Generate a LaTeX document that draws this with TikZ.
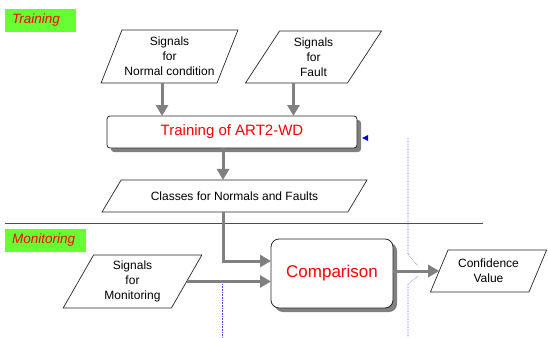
\documentclass[tikz,border=0pt]{standalone}
\usepackage{fontspec}
\setmainfont{Liberation Sans}
\usetikzlibrary{shapes.geometric,arrows.meta,shadows}
\definecolor{phasegreen}{RGB}{102,255,51}

\begin{document}
\begin{tikzpicture}[x=1pt,y=-1pt,
  font=\fontsize{12}{15}\selectfont,
  iobox/.style={draw=black!85, line width=0.7pt, trapezium, trapezium stretches=true,
    align=center, inner sep=0pt, outer sep=0pt},
  procbox/.style={draw=black!85, line width=0.8pt, fill=white, align=center, text=red,
    inner sep=0pt, outer sep=0pt,
    drop shadow={shadow xshift=4pt, shadow yshift=-4pt, fill=black!50, opacity=1}},
  phase/.style={fill=phasegreen, text=red, anchor=west, align=left, inner xsep=7pt,
    minimum height=23pt, font=\fontsize{13.5}{16}\selectfont\itshape},
  flow/.style={draw=gray, line width=3pt, -{Triangle[width=12pt,length=11pt]}},
  guide/.style={blue!70, densely dotted, line width=0.6pt}]
  \useasboundingbox (0,0) rectangle (548,337);

  % phases
  \node[phase, text width=57pt] (ptrain) at (5,20.5) {Training};
  \node[phase, text width=67pt] (pmon) at (5,240.5) {Monitoring};
  \draw[black!70, line width=0.8pt] (5,223) -- (483,223);

  % training part
  \node[iobox, trapezium left angle=63, trapezium right angle=117,
    minimum width=137pt, minimum height=53pt] (norm) at (169.5,56.5)
    {Signals\\for\\Normal condition};
  \node[iobox, trapezium left angle=63, trapezium right angle=117,
    minimum width=137pt, minimum height=52pt] (fault) at (313.5,57)
    {Signals\\for\\Fault};
  \node[procbox, rounded corners=3pt, minimum width=250pt, minimum height=32pt,
    font=\fontsize{15}{18}\selectfont] (train) at (232,132) {Training of ART2-WD};
  \node[iobox, trapezium left angle=32, trapezium right angle=148,
    minimum width=265pt, minimum height=32pt] (cls) at (234.5,196)
    {Classes for Normals and Faults};
  \fill[blue!80!black] (362,138) -- (368,135) -- (368,141) -- cycle;

  % monitoring part
  \node[iobox, trapezium left angle=62, trapezium right angle=118,
    minimum width=139pt, minimum height=53pt] (mon) at (132.5,281.5)
    {Signals\\for\\Monitoring};
  \node[procbox, rounded corners=8pt, minimum width=122pt, minimum height=69pt,
    font=\fontsize{17}{20}\selectfont] (cmp) at (332,273.5) {Comparison};
  \node[iobox, trapezium left angle=61, trapezium right angle=119,
    minimum width=117pt, minimum height=42pt] (conf) at (488.5,271)
    {Confidence\\Value};

  % guides
  \draw[guide] (408,138) -- (408,254) -- (418,266);
  \draw[guide] (418,276) -- (408,284) -- (408,337);
  \draw[guide] (222,284) -- (222,337);

  % arrows
  \draw[flow] ([xshift=3pt]norm.bottom side) -- ([xshift=3pt]norm.bottom side |- train.north);
  \draw[flow] ([xshift=-3pt]fault.bottom side) -- ([xshift=-3pt]fault.bottom side |- train.north);
  \draw[flow] ([xshift=-9pt]train.south) -- ([xshift=-9pt]train.south |- cls.north);
  \draw[flow] ([xshift=-9pt]train.south |- cls.south) |- ([yshift=12.5pt]cmp.west);
  \draw[flow] (mon.east) -- (mon.east -| cmp.west);
  \draw[flow] (cmp.east |- conf.west) -- (conf.west);
\end{tikzpicture}
\end{document}
